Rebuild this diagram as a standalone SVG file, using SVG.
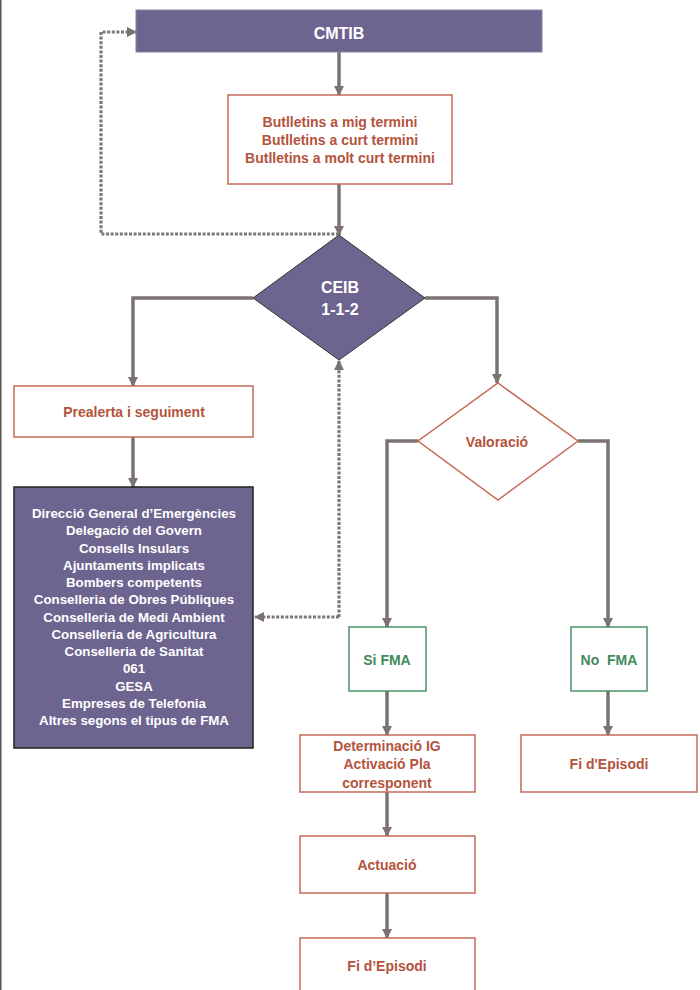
<svg xmlns="http://www.w3.org/2000/svg" width="700" height="990" viewBox="0 0 700 990">
<defs>
<style>
text{font-family:"Liberation Sans",Arial,sans-serif;font-weight:bold;text-anchor:middle}
.w{fill:#ffffff}
.r{fill:#b4533d;font-size:14px}
.g{fill:#3f8a58;font-size:14px}
.p{font-size:13.3px}
.big{font-size:16px}
.rbox{fill:#ffffff;stroke:#c46a57;stroke-width:1.5}
.gbox{fill:#ffffff;stroke:#4a9466;stroke-width:1.5}
.pur{fill:#6e6490}
.con{fill:none;stroke:#7b7371;stroke-width:3.5;marker-end:url(#ah)}
.dot{fill:none;stroke:#7e7674;stroke-width:3.2;stroke-dasharray:3 1.6;marker-end:url(#ah)}
</style>
<marker id="ah" viewBox="0 0 10 10" refX="9" refY="5" markerWidth="10" markerHeight="10" markerUnits="userSpaceOnUse" orient="auto"><path d="M0,0 L10,5 L0,10 z" fill="#7b7371"/></marker>
</defs>
<rect x="0" y="0" width="700" height="990" fill="#ffffff"/>
<line x1="0.75" y1="0" x2="0.75" y2="990" stroke="#555555" stroke-width="1.5"/>

<g id="connectors">
<path class="con" d="M339,52 V95"/>
<path class="con" d="M339,184 V235"/>
<path class="dot" d="M339,234 H101 V32 H136"/>
<path class="con" d="M253,298 H133 V386"/>
<path class="con" d="M133,437 V487"/>
<path class="dot" d="M339,617 V361"/>
<path class="dot" d="M339,617 H255"/>
<path class="con" d="M425,298 H497 V383"/>
<path class="con" d="M418,441 H387 V627"/>
<path class="con" d="M578,441 H608 V627"/>
<path class="con" d="M387,691 V735"/>
<path class="con" d="M608,691 V735"/>
<path class="con" d="M387,792 V836"/>
<path class="con" d="M387,893 V938"/>
</g>

<g id="cmtib">
<rect class="pur" x="136" y="10" width="406" height="42" stroke="#8a80a8" stroke-width="1"/>
<text class="w big" x="339" y="38.5">CMTIB</text>
</g>

<g id="butlletins">
<rect class="rbox" x="228" y="95" width="224" height="89"/>
<text class="r" x="340" y="127">Butlletins a mig termini</text>
<text class="r" x="340" y="145">Butlletins a curt termini</text>
<text class="r" x="340" y="163">Butlletins a molt curt termini</text>
</g>

<g id="ceib">
<path class="pur" d="M339,235 L425,298 L339,360 L253,298 Z" stroke="#333333" stroke-width="1"/>
<text class="w big" x="340" y="292.5">CEIB</text>
<text class="w big" x="340" y="314.5">1-1-2</text>
</g>

<g id="prealerta">
<rect class="rbox" x="14" y="386" width="239" height="51"/>
<text class="r" x="134" y="417">Prealerta i seguiment</text>
</g>

<g id="organismes">
<rect class="pur" x="14" y="487" width="239" height="261" stroke="#222222" stroke-width="1.5"/>
<text class="w p" x="134" y="518">Direcció General d’Emergències</text>
<text class="w p" x="134" y="535.25">Delegació del Govern</text>
<text class="w p" x="134" y="552.5">Consells Insulars</text>
<text class="w p" x="134" y="569.75">Ajuntaments implicats</text>
<text class="w p" x="134" y="587">Bombers competents</text>
<text class="w p" x="134" y="604.25">Conselleria de Obres Públiques</text>
<text class="w p" x="134" y="621.5">Conselleria de Medi Ambient</text>
<text class="w p" x="134" y="638.75">Conselleria de Agricultura</text>
<text class="w p" x="134" y="656">Conselleria de Sanitat</text>
<text class="w p" x="134" y="673.25">061</text>
<text class="w p" x="134" y="690.5">GESA</text>
<text class="w p" x="134" y="707.75">Empreses de Telefonia</text>
<text class="w p" x="134" y="725">Altres segons el tipus de FMA</text>
</g>

<g id="valoracio">
<path d="M498,383 L578,441 L498,500 L418,441 Z" fill="#ffffff" stroke="#c46a57" stroke-width="1.5"/>
<text class="r" x="497" y="447">Valoració</text>
</g>

<g id="sifma">
<rect class="gbox" x="349" y="627" width="77" height="64"/>
<text class="g" x="387" y="665">Si FMA</text>
</g>

<g id="nofma">
<rect class="gbox" x="571" y="627" width="76" height="64"/>
<text class="g" x="609" y="665">No&#160; FMA</text>
</g>

<g id="determinacio">
<rect class="rbox" x="300" y="735" width="175" height="57"/>
<text class="r" x="387" y="751">Determinació IG</text>
<text class="r" x="387" y="769">Activació Pla</text>
<text class="r" x="387" y="788">corresponent</text>
</g>

<g id="fi-episodi-no">
<rect class="rbox" x="521" y="735" width="176" height="57"/>
<text class="r" x="609" y="769">Fi d'Episodi</text>
</g>

<g id="actuacio">
<rect class="rbox" x="300" y="836" width="175" height="57"/>
<text class="r" x="387" y="870">Actuació</text>
</g>

<g id="fi-episodi-si">
<rect class="rbox" x="300" y="938" width="175" height="60"/>
<text class="r" x="387" y="971">Fi d’Episodi</text>
</g>
</svg>
